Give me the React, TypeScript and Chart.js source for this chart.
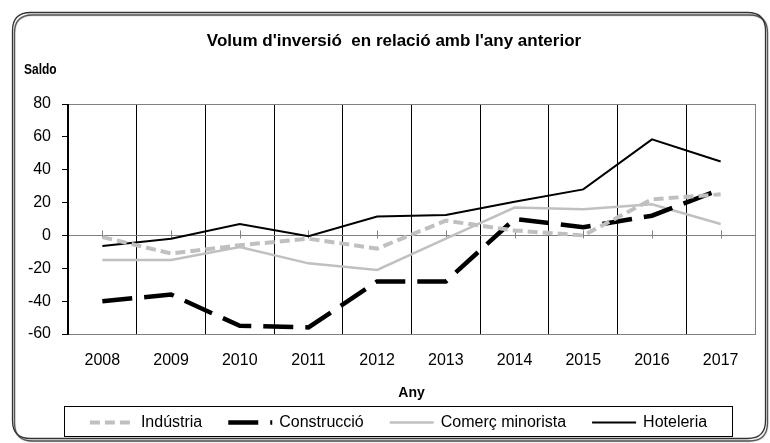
import React, { useEffect, useRef } from 'react';
import { Chart, registerables } from 'chart.js';

Chart.register(...registerables);

const TITLE = "Volum d'inversió  en relació amb l'any anterior";
const Y_TITLE = 'Saldo';
const X_TITLE = 'Any';
const YEARS = ['2008', '2009', '2010', '2011', '2012', '2013', '2014', '2015', '2016', '2017'];
const INDUSTRIA = [-1, -11, -6, -2, -8, 9, 3, 0, 22, 25];
const CONSTRUCCIO = [-40, -36, -55, -56, -28, -28, 10, 5, 12, 28];
const COMERC = [-15, -15, -7, -17, -21, -2, 17, 16, 19, 7];
const HOTELERIA = [-6.5, -2, 7, -0.5, 11.5, 12.5, 20.5, 28, 58.5, 45];
const Y_MIN = -60;
const Y_MAX = 80;
const Y_STEP = 20;

const FONT = '"Liberation Sans", Arial, sans-serif';

const decorPlugin = {
  id: 'decor',
  beforeDraw(chart: any) {
    const ctx = chart.ctx;
    ctx.save();
    ctx.fillStyle = '#ffffff';
    ctx.fillRect(0, 0, chart.width, chart.height);
    ctx.restore();
  },
  beforeDatasetsDraw(chart: any) {
    const ctx = chart.ctx;
    const xs = chart.scales.x;
    const ys = chart.scales.y;
    const y0 = ys.getPixelForValue(0);
    ctx.save();
    ctx.strokeStyle = '#808080';
    ctx.lineWidth = 1;
    for (let i = 0; i < YEARS.length; i++) {
      const x = Math.round(xs.getPixelForValue(i)) + 0.5;
      ctx.beginPath();
      ctx.moveTo(x, y0 - 5);
      ctx.lineTo(x, y0 + 3);
      ctx.stroke();
    }
    ctx.restore();
  },
  afterDraw(chart: any) {
    const ctx = chart.ctx;
    const area = chart.chartArea;
    ctx.save();
    // outer rounded frame with shadow
    const fx = 12.5, fy = 12.5, fw = 753, fh = 426, r = 18;
    ctx.beginPath();
    ctx.moveTo(fx + r, fy);
    ctx.lineTo(fx + fw - r, fy);
    ctx.quadraticCurveTo(fx + fw, fy, fx + fw, fy + r);
    ctx.lineTo(fx + fw, fy + fh - r);
    ctx.quadraticCurveTo(fx + fw, fy + fh, fx + fw - r, fy + fh);
    ctx.lineTo(fx + r, fy + fh);
    ctx.quadraticCurveTo(fx, fy + fh, fx, fy + fh - r);
    ctx.lineTo(fx, fy + r);
    ctx.quadraticCurveTo(fx, fy, fx + r, fy);
    ctx.closePath();
    ctx.shadowColor = 'rgba(0,0,0,0.8)';
    ctx.shadowOffsetX = 2;
    ctx.shadowOffsetY = 2.5;
    ctx.shadowBlur = 1;
    ctx.strokeStyle = '#333333';
    ctx.lineWidth = 1.3;
    ctx.stroke();
    ctx.shadowColor = 'transparent';

    // title
    ctx.fillStyle = '#000';
    ctx.textAlign = 'center';
    ctx.textBaseline = 'middle';
    ctx.font = 'bold 17px ' + FONT;
    ctx.fillText(TITLE, 394, 41);

    // y title (condensed)
    ctx.save();
    ctx.translate(24, 70);
    ctx.scale(0.8, 1);
    ctx.textAlign = 'left';
    ctx.font = 'bold 15px ' + FONT;
    ctx.fillText(Y_TITLE, 0, 0);
    ctx.restore();

    // x title
    ctx.textAlign = 'center';
    ctx.textBaseline = 'middle';
    ctx.font = 'bold 14px ' + FONT;
    ctx.fillText(X_TITLE, (area.left + area.right) / 2, 393);

    // legend box
    const lx = 64.5, ly = 406.5, lw = 668, lh = 30;
    ctx.strokeStyle = '#000';
    ctx.lineWidth = 1;
    ctx.strokeRect(lx, ly, lw, lh);

    ctx.font = '16px ' + FONT;
    const sample = 44, gapText = 7, gapItem = 26;
    const ds = chart.data.datasets;
    const widths = ds.map((d: any) => ctx.measureText(d.label).width);
    const total = widths.reduce((a: number, b: number) => a + b, 0) + ds.length * (sample + gapText) + (ds.length - 1) * gapItem;
    let x = lx + lw / 2 - total / 2;
    const cy = 422.5;
    ds.forEach((d: any, i: number) => {
      ctx.save();
      ctx.strokeStyle = d.borderColor;
      ctx.lineWidth = d.borderWidth;
      ctx.setLineDash(d.borderDash || []);
      ctx.lineCap = 'butt';
      ctx.beginPath();
      ctx.moveTo(x, cy);
      ctx.lineTo(x + sample, cy);
      ctx.stroke();
      ctx.restore();
      ctx.fillStyle = '#000';
      ctx.textAlign = 'left';
      ctx.textBaseline = 'middle';
      ctx.fillText(d.label, x + sample + gapText, cy);
      x += sample + gapText + widths[i] + gapItem;
    });
    ctx.restore();
  },
};

export default function App() {
  const ref = useRef<HTMLCanvasElement | null>(null);
  useEffect(() => {
    document.body.style.margin = '0';
    const canvas = ref.current;
    if (!canvas) return;
    const chart = new Chart(canvas, {
      type: 'line',
      data: {
        labels: YEARS,
        datasets: [
          {
            label: 'Indústria',
            data: INDUSTRIA,
            borderColor: '#c0c0c0',
            borderWidth: 4,
            borderDash: [10, 5],
            pointRadius: 0,
            tension: 0,
            fill: false,
          },
          {
            label: 'Construcció',
            data: CONSTRUCCIO,
            borderColor: '#000000',
            borderWidth: 4.5,
            borderDash: [30, 12],
            pointRadius: 0,
            tension: 0,
            fill: false,
          },
          {
            label: 'Comerç minorista',
            data: COMERC,
            borderColor: '#c0c0c0',
            borderWidth: 2.5,
            pointRadius: 0,
            tension: 0,
            fill: false,
          },
          {
            label: 'Hoteleria',
            data: HOTELERIA,
            borderColor: '#000000',
            borderWidth: 2,
            pointRadius: 0,
            tension: 0,
            fill: false,
          },
        ],
      },
      options: {
        animation: false,
        responsive: false,
        maintainAspectRatio: false,
        layout: { padding: { left: 0, right: 15, top: 104, bottom: 0 } },
        plugins: {
          legend: { display: false },
          title: { display: false },
          tooltip: { enabled: false },
        },
        scales: {
          x: {
            type: 'category',
            offset: true,
            grid: {
              offset: true,
              drawTicks: false,
              lineWidth: 1,
              color: (c: any) => (c.index === undefined ? '#808080' : '#000000'),
            },
            border: { color: '#808080', width: 1 },
            ticks: {
              font: { family: FONT, size: 16 },
              color: '#000',
              padding: 17,
              maxRotation: 0,
              autoSkip: false,
            },
            afterFit: (s: any) => {
              s.height = 109;
            },
          },
          y: {
            min: Y_MIN,
            max: Y_MAX,
            ticks: {
              stepSize: Y_STEP,
              font: { family: FONT, size: 16 },
              color: '#000',
              padding: 11,
            },
            grid: {
              tickLength: 6,
              tickColor: '#000000',
              lineWidth: 1,
              color: (c: any) =>
                c.tick && (c.tick.value === 0 || c.tick.value === Y_MAX) ? '#808080' : 'rgba(0,0,0,0)',
            },
            border: { color: '#000000', width: 1 },
            afterFit: (s: any) => {
              s.width = 68;
            },
          },
        },
      },
      plugins: [decorPlugin],
    });
    return () => chart.destroy();
  }, []);
  return (
    <div style={{ width: 770, height: 443 }}>
      <canvas ref={ref} width={770} height={443} style={{ display: 'block', width: 770, height: 443 }} />
    </div>
  );
}
